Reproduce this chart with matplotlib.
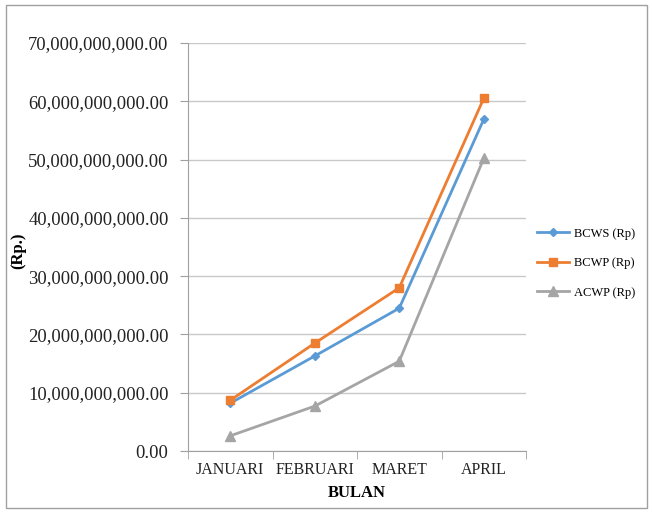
import matplotlib
matplotlib.use("Agg")
import matplotlib.pyplot as plt
from matplotlib.patches import Rectangle
from matplotlib.ticker import FuncFormatter, MultipleLocator, FixedLocator

bulan = ["JANUARI", "FEBRUARI", "MARET", "APRIL"]
bcws = [8.2e9, 16.3e9, 24.5e9, 56.9e9]
bcwp = [8.7e9, 18.5e9, 28.0e9, 60.5e9]
acwp = [2.6e9, 7.7e9, 15.4e9, 50.2e9]

plt.rcParams["font.family"] = ["Liberation Serif", "DejaVu Serif"]

fig = plt.figure(figsize=(6.52, 5.12), dpi=100)
fig.patches.append(Rectangle((6 / 652, 4 / 512), 641 / 652, 503 / 512,
                             transform=fig.transFigure, fill=False,
                             edgecolor="#a0a0a0", linewidth=1))
ax = fig.add_axes([188 / 652, 61 / 512, 338 / 652, 408 / 512])

x = list(range(len(bulan)))
ax.plot(x, bcws, color="#5b9bd5", marker="D", markersize=4, linewidth=2, label="BCWS (Rp)")
ax.plot(x, bcwp, color="#ed7d31", marker="s", markersize=6, linewidth=2, label="BCWP (Rp)")
ax.plot(x, acwp, color="#a5a5a5", marker="^", markersize=7, linewidth=2, label="ACWP (Rp)")

ax.set_xlim(-0.5, len(bulan) - 0.5)
ax.set_ylim(0, 70e9)
ax.yaxis.set_major_locator(MultipleLocator(10e9))
ax.yaxis.set_major_formatter(FuncFormatter(lambda v, p: f"{v:,.2f}"))
ax.set_xticks(x)
ax.set_xticklabels(bulan)
ax.xaxis.set_minor_locator(FixedLocator([i - 0.5 for i in range(len(bulan) + 1)]))
ax.tick_params(axis="x", which="major", length=0, labelsize=11.5, pad=8, colors="#222222")
ax.tick_params(axis="x", which="minor", length=6, color="#a0a0a0")
ax.tick_params(axis="y", length=6, color="#a0a0a0", labelsize=13.4, labelcolor="#222222", pad=8)

ax.grid(axis="y", color="#c8c8c8", linewidth=1)
ax.set_axisbelow(True)
for side in ["top", "right"]:
    ax.spines[side].set_visible(False)
for side in ["left", "bottom"]:
    ax.spines[side].set_color("#a0a0a0")

ax.set_xlabel("BULAN", fontweight="bold", fontsize=12, labelpad=5)
ax.set_ylabel("(Rp.)", fontweight="bold", fontsize=12)
ax.yaxis.set_label_coords(-0.48, 0.49)

ax.legend(loc="center left", bbox_to_anchor=(1.0, 0.46), frameon=False,
          fontsize=9, handlelength=2.5, handletextpad=0.4, labelspacing=1.4)

fig.savefig("out.png", dpi=100)
